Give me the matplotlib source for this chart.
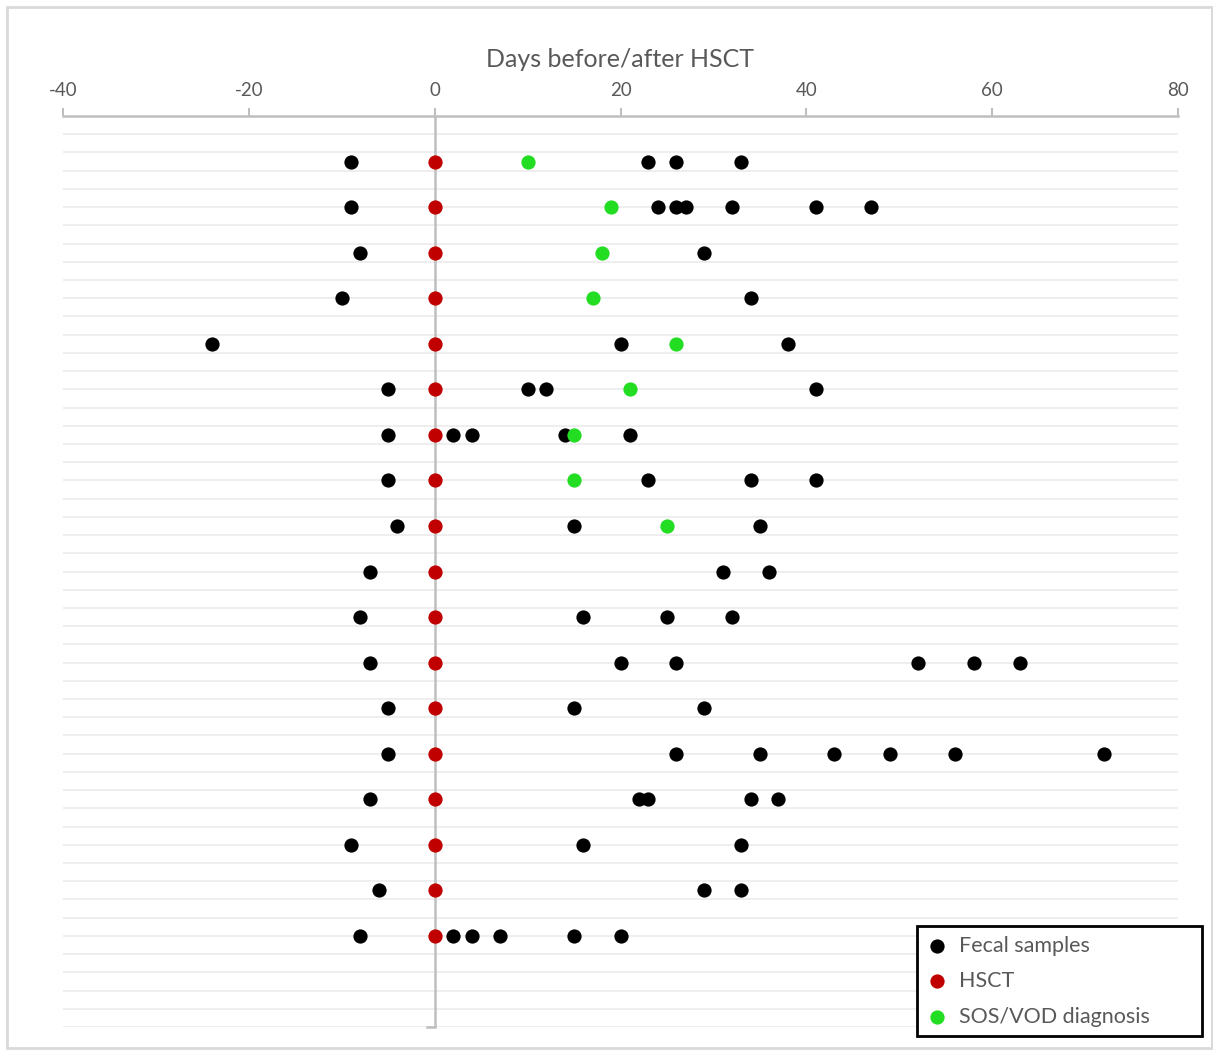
import matplotlib.pyplot as plt
import numpy as np
from matplotlib.patches import Rectangle

plt.rcParams['font.family'] = ['Lato', 'DejaVu Sans']
plt.rcParams['axes.unicode_minus'] = False

# sampling days per patient, relative to transplant day
patients = list(range(1, 19))
fecal_days = [
    [-9, 23, 26, 33],
    [-9, 24, 26, 27, 32, 41, 47],
    [-8, 29],
    [-10, 34],
    [-24, 20, 38],
    [-5, 10, 12, 41],
    [-5, 2, 4, 14, 21],
    [-5, 23, 34, 41],
    [-4, 15, 35],
    [-7, 31, 36],
    [-8, 16, 25, 32],
    [-7, 20, 26, 52, 58, 63],
    [-5, 15, 29],
    [-5, 26, 35, 43, 49, 56, 72],
    [-7, 22, 23, 34, 37],
    [-9, 16, 33],
    [-6, 29, 33],
    [-8, 2, 4, 7, 15, 20],
]
hsct_days = [0] * 18
sos_patients = [1, 2, 3, 4, 5, 6, 7, 8, 9]
sos_days = [10, 19, 18, 17, 26, 21, 15, 15, 25]

gray = '#595959'
axis_gray = '#BFBFBF'

fig = plt.figure(figsize=(12.13, 10.5), dpi=100)
ax = fig.add_axes([63 / 1213, 1 - 1027 / 1050, 1115 / 1213, 911 / 1050])

fx = [d for days in fecal_days for d in days]
fy = [p for p, days in zip(patients, fecal_days) for d in days]

ax.scatter(fx, fy, s=105, color='black', zorder=3, linewidths=0, label='Fecal samples')
ax.scatter(hsct_days, patients, s=105, color='#C00000', zorder=4, linewidths=0, label='HSCT')
ax.scatter(sos_days, sos_patients, s=105, color='#22DD22', zorder=5, linewidths=0, label='SOS/VOD diagnosis')

ax.set_xlim(-40, 80)
ax.set_ylim(20, 0)

# light horizontal gridlines
for g in np.arange(0.4, 20.01, 0.4):
    ax.axhline(g, color='#EBEBEB', lw=1.2, zorder=1)

# vertical axis at day 0
ax.axvline(0, color=axis_gray, lw=1.8, zorder=2)
ax.plot([-0.8, 0], [20, 20], color=axis_gray, lw=1.8, zorder=2, clip_on=False)

ax.xaxis.tick_top()
ax.xaxis.set_label_position('top')
ax.set_xticks([-40, -20, 0, 20, 40, 60, 80])
ax.tick_params(axis='x', colors=axis_gray, labelcolor=gray, labelsize=13.5,
               length=6, width=1.5, pad=6)
ax.set_yticks([])
for side in ['left', 'right', 'bottom']:
    ax.spines[side].set_visible(False)
ax.spines['top'].set_color(axis_gray)
ax.spines['top'].set_linewidth(1.8)
ax.set_xlabel('Days before/after HSCT', fontsize=18, color=gray, labelpad=11)

leg = fig.legend(loc='upper left', bbox_to_anchor=(919 / 1213, 1 - 928 / 1050),
                 fontsize=15.5, frameon=False, borderpad=0.35, borderaxespad=0,
                 handletextpad=0.5, labelspacing=0.72, handlelength=1.0)
for t in leg.get_texts():
    t.set_color(gray)

# legend box
fig.patches.append(Rectangle((917 / 1213, 1 - 1036 / 1050), 285 / 1213, 110 / 1050,
                             transform=fig.transFigure, facecolor='white',
                             edgecolor='black', lw=2, zorder=5))
leg.set_zorder(6)

# outer chart border
fig.patches.append(Rectangle((7 / 1213, 2 / 1050), 1205 / 1213, 1041 / 1050,
                             transform=fig.transFigure, fill=False,
                             edgecolor='#D9D9D9', lw=2))

fig.savefig('out.png', dpi=100)
